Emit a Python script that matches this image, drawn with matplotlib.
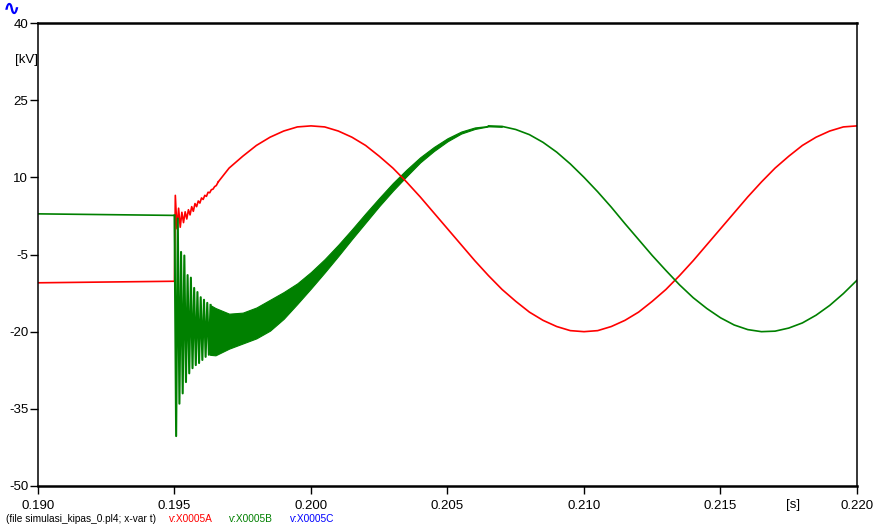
import matplotlib
matplotlib.use("Agg")
import matplotlib.pyplot as plt
from matplotlib import font_manager

# pick a narrow font if there is one
names = set(f.name for f in font_manager.fontManager.ttflist)
if "Liberation Sans Narrow" in names:
    plt.rcParams['font.family'] = ['Liberation Sans Narrow', 'DejaVu Sans']
else:
    plt.rcParams['font.family'] = ['Liberation Sans', 'DejaVu Sans']
plt.rcParams['axes.unicode_minus'] = False

# --- data (t in s, v in kV) ---
# before the switching instant
pre_t = [0.190, 0.195]
red_pre = [-10.5, -10.2]
green_pre = [2.9, 2.6]

# red phase, first ripple after 0.195
red_ring_t = [0.19500, 0.19503, 0.19509, 0.19515, 0.19521, 0.19527, 0.19533, 0.19539,
              0.19545, 0.19551, 0.19557, 0.19563, 0.19569, 0.19575, 0.19581, 0.19587,
              0.19593, 0.19599, 0.19605, 0.19611, 0.19617, 0.19623, 0.19629, 0.19635,
              0.19641, 0.19647, 0.19653, 0.19660]
red_ring_v = [-10.2, 6.5, 0.0, 4.0, 0.3, 3.2, 1.2, 3.3,
              1.9, 3.7, 2.7, 4.3, 3.4, 4.9, 4.3, 5.4,
              5.0, 6.0, 5.7, 6.5, 6.3, 7.1, 7.0, 7.6,
              7.7, 8.2, 8.4, 9.1]

# steady part, sampled every 0.5 ms from 0.197 to 0.220
post_t = [0.1970, 0.1975, 0.1980, 0.1985, 0.1990, 0.1995, 0.2000, 0.2005, 0.2010, 0.2015,
          0.2020, 0.2025, 0.2030, 0.2035, 0.2040, 0.2045, 0.2050, 0.2055, 0.2060, 0.2065,
          0.2070, 0.2075, 0.2080, 0.2085, 0.2090, 0.2095, 0.2100, 0.2105, 0.2110, 0.2115,
          0.2120, 0.2125, 0.2130, 0.2135, 0.2140, 0.2145, 0.2150, 0.2155, 0.2160, 0.2165,
          0.2170, 0.2175, 0.2180, 0.2185, 0.2190, 0.2195, 0.2200]
red_post = [11.8, 14.1, 16.2, 17.8, 19.0, 19.8, 20.0, 19.8, 19.0, 17.8,
            16.2, 14.1, 11.8, 9.1, 6.2, 3.1, 0.0, -3.1, -6.2, -9.1,
            -11.8, -14.1, -16.2, -17.8, -19.0, -19.8, -20.0, -19.8, -19.0, -17.8,
            -16.2, -14.1, -11.8, -9.1, -6.2, -3.1, 0.0, 3.1, 6.2, 9.1,
            11.8, 14.1, 16.2, 17.8, 19.0, 19.8, 20.0]

# green phase, first big oscillation swings
green_ring_t = [0.19500, 0.19506, 0.19512, 0.19518, 0.19524, 0.19530, 0.19536, 0.19542,
                0.19548, 0.19554, 0.19560, 0.19566, 0.19572, 0.19578, 0.19584, 0.19590,
                0.19596, 0.19602, 0.19608, 0.19614, 0.19620, 0.19626, 0.19632]
green_ring_v = [2.6, -40.3, 2.0, -34.0, -4.5, -32.0, -5.2, -29.8,
                -9.0, -28.1, -9.5, -27.1, -11.5, -26.5, -12.3, -26.1,
                -13.3, -25.5, -13.8, -24.9, -14.4, -24.5, -14.8]

# green phase, band covered by the fast ripple (upper / lower edge)
band_t = [0.1963, 0.1965, 0.1970, 0.1975, 0.1980, 0.1985, 0.1990, 0.1995, 0.2000, 0.2005,
          0.2010, 0.2015, 0.2020, 0.2025, 0.2030, 0.2035, 0.2040, 0.2045, 0.2050, 0.2055,
          0.2060, 0.2065, 0.2070]
green_hi = [-14.8, -15.4, -16.5, -16.3, -15.3, -13.8, -12.3, -10.6, -8.4, -5.9,
            -3.1, -0.1, 3.0, 6.0, 8.9, 11.5, 13.9, 15.9, 17.6, 18.9,
            19.7, 20.0, 19.9]
green_lo = [-24.5, -24.6, -23.3, -22.3, -21.3, -19.8, -17.5, -14.6, -11.6, -8.5,
            -5.3, -2.0, 1.2, 4.4, 7.4, 10.2, 12.9, 15.1, 17.0, 18.5,
            19.4, 19.9, 19.9]

# green after the ripple is gone
green_post_t = [0.2065, 0.2070, 0.2075, 0.2080, 0.2085, 0.2090, 0.2095, 0.2100, 0.2105, 0.2110,
                0.2115, 0.2120, 0.2125, 0.2130, 0.2135, 0.2140, 0.2145, 0.2150, 0.2155, 0.2160,
                0.2165, 0.2170, 0.2175, 0.2180, 0.2185, 0.2190, 0.2195, 0.2200]
green_post = [20.0, 19.9, 19.3, 18.3, 16.8, 14.9, 12.6, 10.0, 7.2, 4.2,
              1.0, -2.1, -5.2, -8.1, -10.9, -13.4, -15.5, -17.3, -18.7, -19.6,
              -20.0, -19.9, -19.3, -18.3, -16.8, -14.9, -12.6, -10.0]

xticks = [0.190, 0.195, 0.200, 0.205, 0.210, 0.215, 0.220]
xlabels = ['0.190', '0.195', '0.200', '0.205', '0.210', '0.215', '0.220']
yticks = [40, 25, 10, -5, -20, -35, -50]

red = '#ff0000'
green = '#008000'
blue = '#0000ff'

fig = plt.figure(figsize=(8.77, 5.29), dpi=100)
ax = fig.add_axes([38/877, 1-486/529, 819/877, 463/529])

ax.plot(pre_t, red_pre, color=red, lw=1.2)
ax.plot(red_ring_t, red_ring_v, color=red, lw=1.2)
ax.plot([red_ring_t[-1]] + post_t, [red_ring_v[-1]] + red_post, color=red, lw=1.2)

ax.plot(pre_t, green_pre, color=green, lw=1.2)
ax.plot(green_ring_t, green_ring_v, color=green, lw=1.5)
ax.fill_between(band_t, green_lo, green_hi, color=green, lw=0.8)
ax.plot(green_post_t, green_post, color=green, lw=1.2)

ax.set_xlim(0.190, 0.220)
ax.set_ylim(-50, 40)
ax.set_xticks(xticks)
ax.set_xticklabels(xlabels)
ax.set_yticks(yticks)
ax.tick_params(direction='out', length=6, width=1, labelsize=9.5, pad=4)
ax.tick_params(axis='y', pad=1)
for side in ['top', 'bottom']:
    ax.spines[side].set_linewidth(1.8)
for side in ['left', 'right']:
    ax.spines[side].set_linewidth(1.1)

# unit labels
fig.text(26/877, 1-60/529, '[kV]', fontsize=9.5, ha='center', va='center')
fig.text(793/877, 1-505/529, '[s]', fontsize=9.5, ha='center', va='center')

# signal legend along the bottom
fig.text(6/877, 1-519/529, '(file simulasi_kipas_0.pl4; x-var t)', fontsize=7.3, va='center')
fig.text(169/877, 1-519/529, 'v:X0005A', fontsize=7.3, va='center', color=red)
fig.text(229/877, 1-519/529, 'v:X0005B', fontsize=7.3, va='center', color=green)
fig.text(290/877, 1-519/529, 'v:X0005C', fontsize=7.3, va='center', color=blue)

# small wave icon in the corner
fig.text(3/877, 1-9/529, '\u223f', fontsize=15, color=blue, fontweight='bold',
         va='center', family=['DejaVu Sans'])

fig.savefig('out.png', dpi=100)
